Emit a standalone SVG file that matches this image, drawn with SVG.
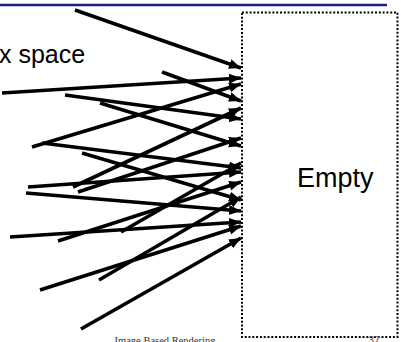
<svg xmlns="http://www.w3.org/2000/svg" width="401" height="342" viewBox="0 0 401 342">
<defs>
<marker id="ah" markerUnits="userSpaceOnUse" markerWidth="14" markerHeight="12" refX="12" refY="5" orient="auto"><path d="M0,0 L12,5 L0,10 z" fill="#000"/></marker>
<style>
.c line{stroke:#000;stroke-width:3.6;marker-end:url(#ah)}
.lbl{font-family:"Liberation Sans",Arial,sans-serif;fill:#000}
</style>
</defs>
<rect width="401" height="342" fill="#fff"/>
<line x1="0" y1="5" x2="387" y2="5" stroke="#1c1c84" stroke-width="2.5"/>
<g id="empty">
<rect x="242" y="12.5" width="155.5" height="324.5" fill="none" stroke="#000" stroke-width="2" stroke-dasharray="2 1.8"/>
<text class="lbl" x="297" y="187" font-size="27">Empty</text>
</g>
<g id="space">
<text class="lbl" x="-1" y="63" font-size="25">x space</text>
</g>
<g class="c" id="connectors">
<line x1="75" y1="10" x2="241" y2="68"/>
<line x1="2" y1="93" x2="241" y2="78"/>
<line x1="162" y1="72" x2="241" y2="101"/>
<line x1="65" y1="95" x2="241" y2="119"/>
<line x1="100" y1="103" x2="241" y2="146"/>
<line x1="32" y1="147" x2="241" y2="84"/>
<line x1="42" y1="143" x2="241" y2="168"/>
<line x1="82" y1="153" x2="241" y2="200"/>
<line x1="28" y1="187" x2="241" y2="172"/>
<line x1="26" y1="193" x2="241" y2="211"/>
<line x1="73" y1="187" x2="241" y2="108"/>
<line x1="78" y1="192" x2="241" y2="138"/>
<line x1="10" y1="237" x2="241" y2="222"/>
<line x1="58" y1="241" x2="241" y2="182"/>
<line x1="40" y1="290" x2="241" y2="226"/>
<line x1="99" y1="280" x2="241" y2="197"/>
<line x1="81" y1="329" x2="241" y2="238"/>
<line x1="121" y1="232" x2="241" y2="163"/>
</g>
<text x="165" y="344" font-size="10.5" text-anchor="middle" font-family="'Liberation Serif','Times New Roman',serif" fill="#333">Image Based Rendering</text>
<text x="368" y="344" font-size="11" font-family="'Liberation Sans',Arial,sans-serif" fill="#555">37</text>
</svg>
